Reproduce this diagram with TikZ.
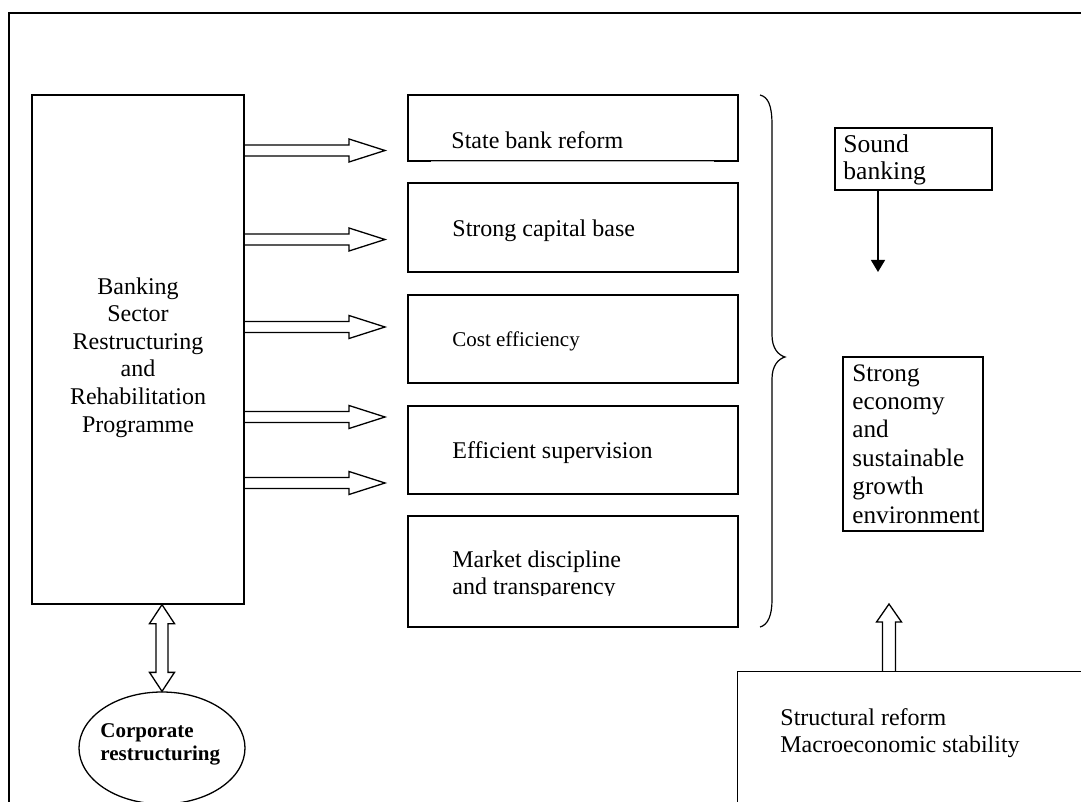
\documentclass[tikz,border=0pt]{standalone}
\usepackage{fontspec}
\setmainfont{Liberation Serif}
\usetikzlibrary{positioning,calc,shapes.geometric,arrows.meta}

\tikzset{
  fatarrow/.style n args={3}{to path={
    ($(\tikztostart)!#3!90:(\tikztotarget)$)
    -- ($(\tikztotarget)!#1!(\tikztostart)!#3!-90:(\tikztostart)$)
    -- ($(\tikztotarget)!#1!(\tikztostart)!#2!-90:(\tikztostart)$)
    -- (\tikztotarget)
    -- ($(\tikztotarget)!#1!(\tikztostart)!#2!90:(\tikztostart)$)
    -- ($(\tikztotarget)!#1!(\tikztostart)!#3!90:(\tikztostart)$)
    -- ($(\tikztostart)!#3!-90:(\tikztotarget)$)}},
  fatboth/.style n args={3}{to path={
    (\tikztostart)
    -- ($(\tikztostart)!#1!(\tikztotarget)!#2!90:(\tikztotarget)$)
    -- ($(\tikztostart)!#1!(\tikztotarget)!#3!90:(\tikztotarget)$)
    -- ($(\tikztotarget)!#1!(\tikztostart)!#3!-90:(\tikztostart)$)
    -- ($(\tikztotarget)!#1!(\tikztostart)!#2!-90:(\tikztostart)$)
    -- (\tikztotarget)
    -- ($(\tikztotarget)!#1!(\tikztostart)!#2!90:(\tikztostart)$)
    -- ($(\tikztotarget)!#1!(\tikztostart)!#3!90:(\tikztostart)$)
    -- ($(\tikztostart)!#1!(\tikztotarget)!#3!-90:(\tikztotarget)$)
    -- ($(\tikztostart)!#1!(\tikztotarget)!#2!-90:(\tikztotarget)$)
    -- cycle}},
  hbar/.style={draw, line width=0.65pt, fatarrow={18pt}{5.75pt}{2.75pt}},
  vbar/.style={draw, line width=0.65pt, fatarrow={9pt}{6.25pt}{3.25pt}},
  plainbox/.style={draw, line width=0.65pt, inner sep=0pt},
  thickbox/.style={draw, line width=1pt, inner sep=0pt},
  txt/.style={inner sep=0pt, align=left, font=\fontsize{12}{13.8}\selectfont},
}

\begin{document}
\begin{tikzpicture}[x=0.5pt,y=-0.5pt,line join=miter]
\useasboundingbox (0,0) rectangle (1081,802);
%% outer frame
\draw [line width=1pt] (1090,13) -- (9,13) -- (9,812);
%% programme and corporate side (text nodes sit on their last baseline)
\node (left_box) at (138,349.5) [plainbox, minimum width=106pt, minimum height=254.5pt] {};
\node (left_txt) at (138,432) [txt, align=center, anchor=base] {Banking\\Sector\\Restructuring\\and\\Rehabilitation\\Programme};
\node (corp) at (162,748) [ellipse, draw, line width=0.65pt, minimum width=83pt, minimum height=56pt, inner sep=0pt] {};
\node (corp_txt) at (100,760) [txt, anchor=base west, font=\bfseries\fontsize{10.5}{11.5}\selectfont] {Corporate\\restructuring};
\draw [fatboth={9.5pt}{6.25pt}{3pt}, line width=0.65pt] (left_box.south -| corp.north) to (corp.north);
%% reform boxes
\node (box_1) at (573,128) [plainbox, minimum width=165pt, minimum height=33pt] {};
\node (box_2) at (573,227.5) [plainbox, minimum width=165pt, minimum height=44.5pt] {};
\node (box_3) at (573,339) [plainbox, minimum width=165pt, minimum height=44pt] {};
\node (box_4) at (573,450) [plainbox, minimum width=165pt, minimum height=44pt] {};
\node (box_5) at (573,571.5) [plainbox, minimum width=165pt, minimum height=55.5pt] {};
\draw [white!70!black, line width=0.65pt] ([xshift=12pt]box_1.south west) -- ([xshift=-12.5pt]box_1.south east);
\node (txt_1) at (451,149) [txt, anchor=base west] {State bank reform};
\node (txt_2) at (452,237) [txt, anchor=base west] {Strong capital base};
\node (txt_3) at (452,346) [txt, anchor=base west, font=\fontsize{10.5}{12}\selectfont] {Cost efficiency};
\node (txt_4) at (452,458) [txt, anchor=base west] {Efficient supervision};
\begin{scope}
\clip (400,500) rectangle (740,595);
\node (txt_5) at (452,594) [txt, anchor=base west, font=\fontsize{12}{13.5}\selectfont] {Market discipline\\and transparency};
\end{scope}
%% arrows into the boxes
\coordinate (tip_1) at (385,150.5);
\coordinate (tip_2) at (385,239.5);
\coordinate (tip_3) at (385,327);
\coordinate (tip_4) at (385,417);
\coordinate (tip_5) at (385,483);
\foreach \i in {1,...,5}
  \draw [hbar] (left_box.east |- tip_\i) to (tip_\i);
%% brace
\draw [line width=0.6pt] (760,95) .. controls (768,97) and (772,105) .. (772,125) -- (772,335)
  .. controls (772,348) and (778,355) .. (785,357) .. controls (778,359) and (772,366) .. (772,379)
  -- (772,600) .. controls (772,615) and (768,625) .. (760,627);
%% outcomes
\node (sound_box) at (913.5,159) [thickbox, minimum width=78.5pt, minimum height=31pt] {};
\node (sound_txt) at (843,180) [txt, anchor=base west, font=\fontsize{12.8}{13.6}\selectfont] {Sound\\banking};
\coordinate (sound_tip) at (878,272);
\draw [line width=0.7pt, -{Triangle[length=6pt,width=7pt]}] (sound_box.south -| sound_tip) to (sound_tip);
\node (econ_box) at (913,444) [thickbox, minimum width=70pt, minimum height=87pt] {};
\node (econ_txt) at (852,523) [txt, anchor=base west, font=\fontsize{12.6}{14.2}\selectfont] {Strong\\economy\\and\\sustainable\\growth\\environment};
\node (struct_box) at (737,671) [plainbox, anchor=north west, minimum width=200pt, minimum height=100pt] {};
\node (struct_txt) at (780,752) [txt, anchor=base west, font=\fontsize{12}{13.5}\selectfont] {Structural reform\\Macroeconomic stability};
\coordinate (up_tip) at (889,604);
\draw [vbar] (struct_box.north -| up_tip) to (up_tip);
\end{tikzpicture}
\end{document}
